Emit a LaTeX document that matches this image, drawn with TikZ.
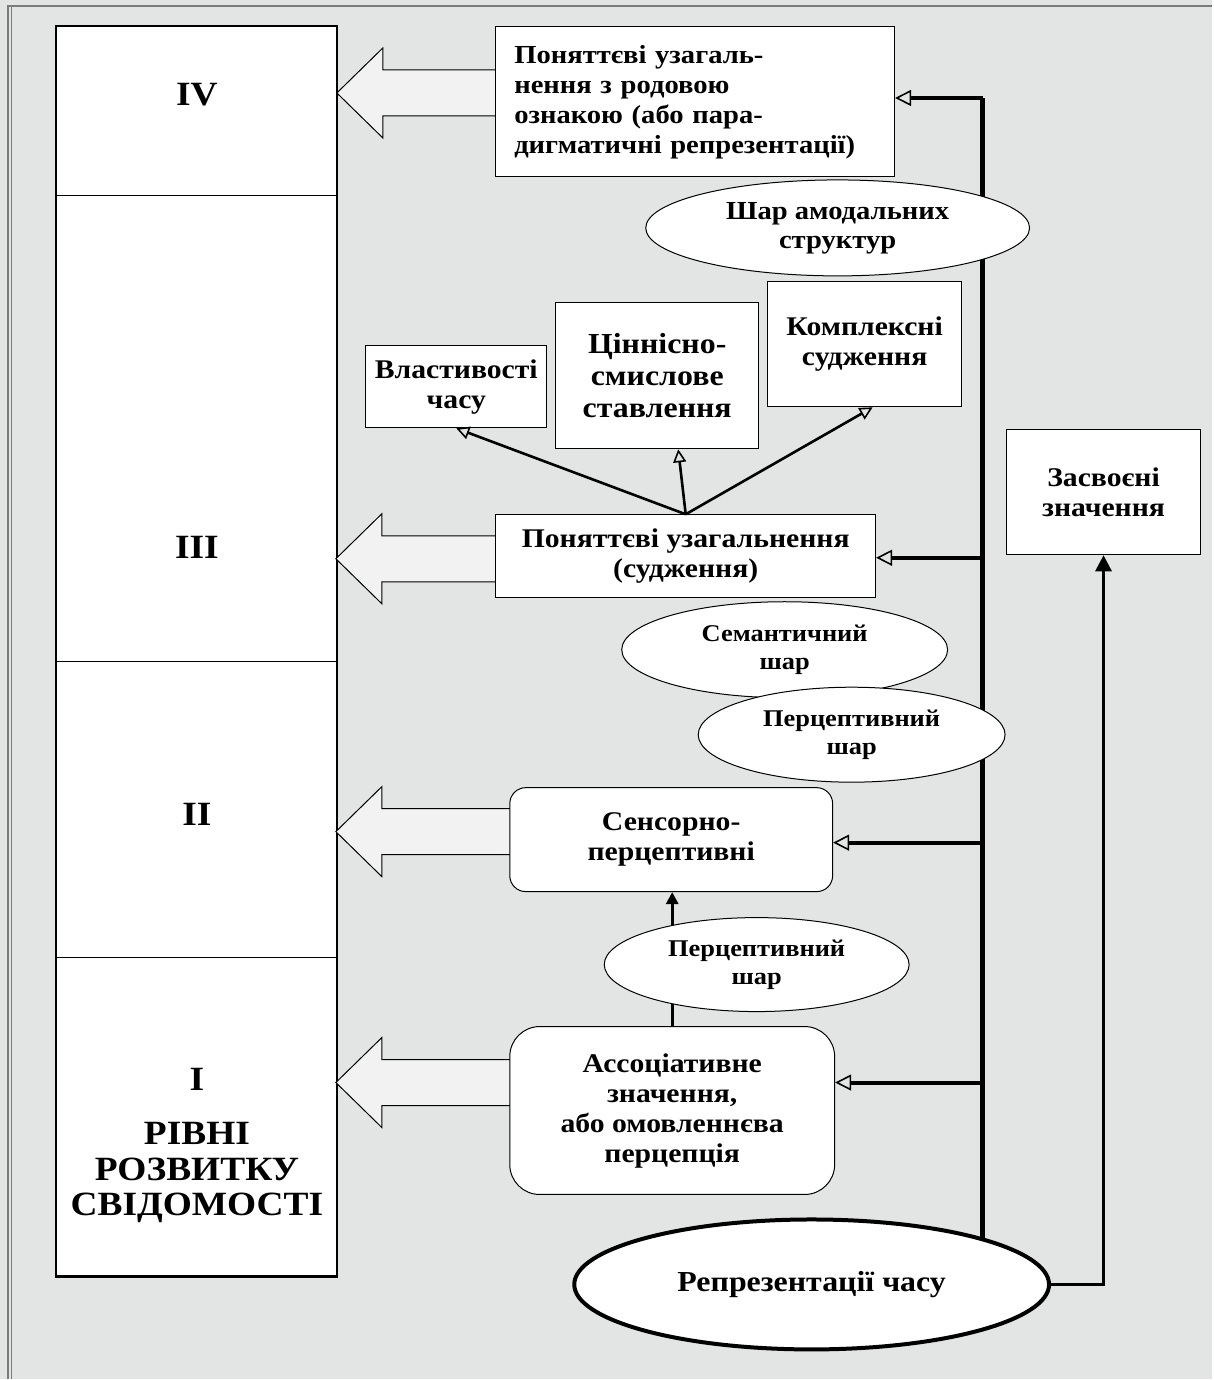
\documentclass[tikz,border=0pt]{standalone}
\usepackage{fontspec}
\setmainfont{Liberation Serif}[FakeStretch=1.1]
\usetikzlibrary{arrows.meta,calc,positioning,shapes.geometric}
\definecolor{rvPaper}{HTML}{E3E5E4}
\definecolor{rvArrow}{HTML}{F1F2F1}
\definecolor{rvFrame}{HTML}{7A7C7B}
\newcommand\levelarrow[3]{% tip x, tip y, tail x
  \draw[blockarr] (#1,#2) -- (#1+46,#2-45) -- (#1+46,#2-23) -- (#3,#2-23)
    -- (#3,#2+23) -- (#1+46,#2+23) -- (#1+46,#2+45) -- cycle;}
\begin{document}
\begin{tikzpicture}[x=1pt,y=-1pt,>=Latex,line join=miter]
\path[fill=rvPaper] (0,0) rectangle (1213,1380);
\draw[rvFrame,line width=1.2pt] (8,1380) -- (8,6) -- (1213,6);
\draw[rvFrame,line width=1pt] (12,1380) -- (12,6);
\tikzset{box/.style={draw=black,line width=1pt,fill=white,inner sep=0pt,align=center,font=\bfseries\fontsize{27}{30}\selectfont},
  rbox/.style={box,rounded corners=#1},
  layer/.style={ellipse,draw=black,line width=1pt,fill=white,inner sep=0pt,align=center,font=\bfseries\fontsize{24}{28}\selectfont},
  lvl/.style={font=\bfseries\fontsize{34}{36}\selectfont,align=center},
  blockarr/.style={draw=black,line width=1pt,fill=rvArrow},
  trunk/.style={line width=4.5pt},
  feed/.style={line width=4pt,-{Triangle[open,length=16pt,width=16pt,line width=1.6pt]}},
  fan/.style={line width=2.6pt,-{Triangle[open,length=13pt,width=13pt,line width=1.6pt]}}}
% levels column
\node[draw=black,line width=2.2pt,fill=white,minimum width=281pt,minimum height=1251pt,inner sep=0pt] (col) at (196.5,651.5) {};
\draw[line width=1pt] (57,196) -- (336,196) (57,662) -- (336,662) (57,958) -- (336,958);
\node[lvl] (lvIV) at (197,95) {IV};
\node[lvl] (lvIII) at (197,548) {III};
\node[lvl] (lvII) at (197,815) {II};
\node[lvl] (lvI) at (197,1080) {I};
\node[lvl] (lvname) at (197,1173) {РІВНІ\\РОЗВИТКУ\\СВІДОМОСТІ};
% hollow arrows into the column
\levelarrow{337}{93}{500}
\levelarrow{336}{559}{500}
\levelarrow{336}{832}{514}
\levelarrow{336}{1083}{514}
% trunk from the representations
\coordinate (t4) at (983,98);
\coordinate (t3) at (983,558);
\coordinate (t2) at (983,843);
\coordinate (t1) at (983,1083);
\draw[trunk] (t4) -- (983,1260);
% boxes
\node[box,font=\bfseries\fontsize{26}{30}\selectfont,minimum width=399pt,minimum height=150pt,text width=362pt,align=left] (boxIV) at (695.5,102) {Поняттєві узагаль-\\нення з родовою\\ознакою (або пара-\\дигматичні репрезентації)};
\node[layer,font=\bfseries\fontsize{26}{29}\selectfont,minimum width=384pt,minimum height=96pt] (amod) at (838,228) {Шар амодальних\\структур};
\node[box,minimum width=181pt,minimum height=82pt] (vlast) at (456.5,387) {Властивості\\часу};
\node[box,font=\bfseries\fontsize{29}{32}\selectfont,minimum width=203pt,minimum height=146pt] (cinn) at (657.5,376) {Ціннісно-\\смислове\\ставлення};
\node[box,minimum width=194pt,minimum height=125pt] (komp) at (865,344.5) {Комплексні\\судження};
\node[box,minimum width=380pt,minimum height=83pt] (boxIII) at (686,556.5) {Поняттєві узагальнення\\(судження)};
\node[box,minimum width=194pt,minimum height=125pt] (zasv) at (1104,492.5) {Засвоєні\\значення};
\node[layer,minimum width=326pt,minimum height=96pt] (sem) at (785,650) {Семантичний\\шар};
\node[layer,minimum width=307pt,minimum height=95pt] (perc) at (852,735) {Перцептивний\\шар};
\node[rbox=16pt,minimum width=323pt,minimum height=104pt] (boxII) at (671.5,840) {Сенсорно-\\перцептивні};
\node[rbox=30pt,minimum width=325pt,minimum height=168pt] (boxI) at (672.5,1111) {Ассоціативне\\значення,\\або омовленнєва\\перцепція};
\draw[line width=3pt,-{Triangle[length=12pt,width=12pt]}] (boxI.north) -- (boxI.north |- boxII.south);
\node[layer,minimum width=305pt,minimum height=94pt] (percII) at (757,965) {Перцептивний\\шар};
\node[layer,line width=4pt,font=\bfseries\fontsize{29}{32}\selectfont,minimum width=475pt,minimum height=130pt] (repr) at (812,1285) {Репрезентації часу};
% links
\draw[feed] (t4) -- (t4 -| boxIV.east);
\draw[feed] (t3) -- (t3 -| boxIII.east);
\draw[feed] (t2) -- (t2 -| boxII.east);
\draw[feed] (t1) -- (t1 -| boxI.east);
\draw[fan] (boxIII.north) -- (vlast.south);
\draw[fan] (boxIII.north) -- ($(cinn.south)+(21,0)$);
\draw[fan] (boxIII.north) -- ($(komp.south)+(8,0)$);
\draw[line width=3pt,-{Triangle[length=16pt,width=16pt]}] (repr.east) -| (zasv.south);
\end{tikzpicture}
\end{document}
